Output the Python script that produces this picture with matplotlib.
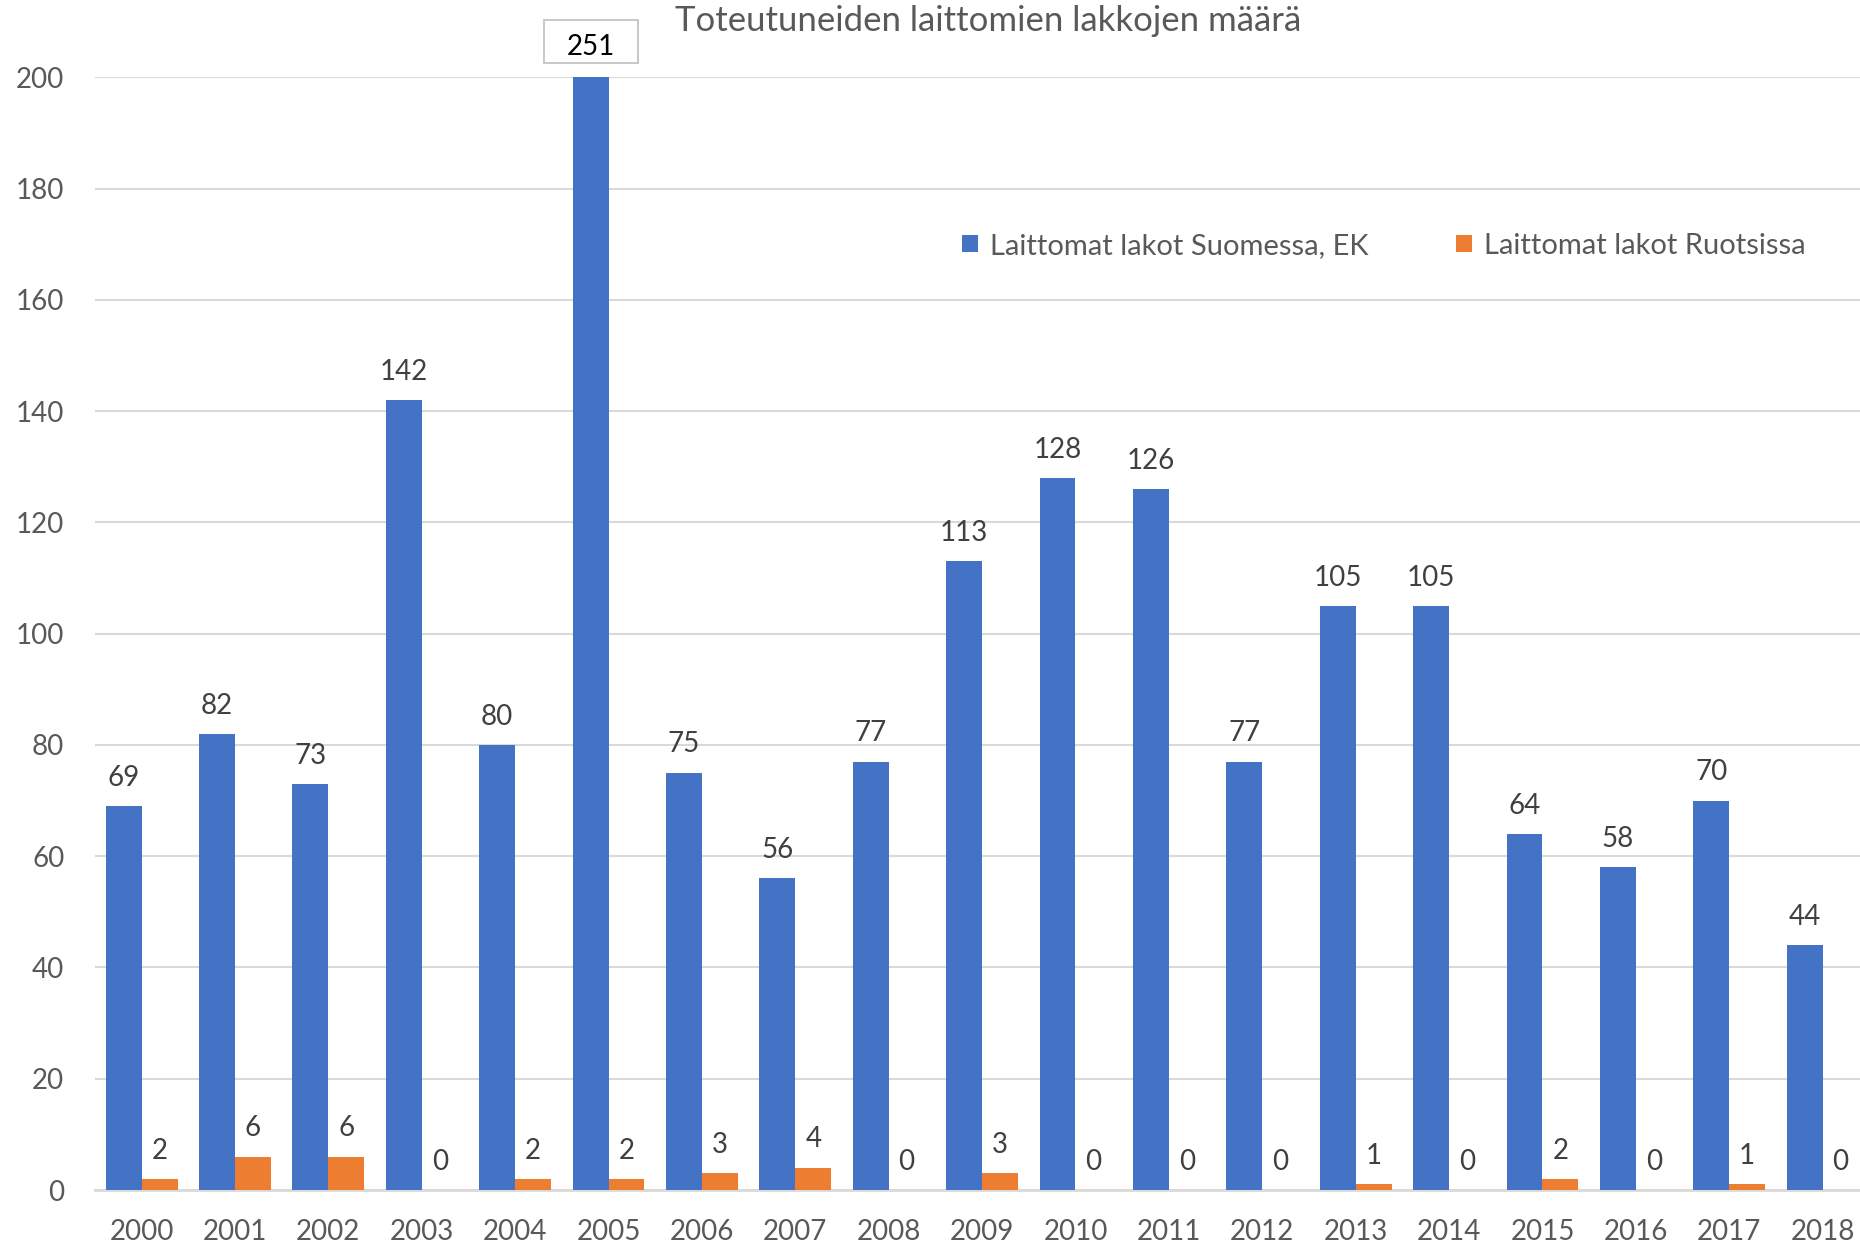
import matplotlib
matplotlib.use("Agg")
import matplotlib.pyplot as plt
from matplotlib.patches import Rectangle
import numpy as np

plt.rcParams['font.family'] = ['Lato', 'DejaVu Sans']

years = [str(y) for y in range(2000, 2019)]
suomi = [69, 82, 73, 142, 80, 251, 75, 56, 77, 113, 128, 126, 77, 105, 105, 64, 58, 70, 44]
ruotsi = [2, 6, 6, 0, 2, 2, 3, 4, 0, 3, 0, 0, 0, 1, 0, 2, 0, 1, 0]

blue = '#4472C4'
orange = '#ED7D31'
txt = '#404040'
tick_c = '#595959'

fig = plt.figure(figsize=(18.6, 12.47), dpi=100)
ax = fig.add_axes([0.051, 0.0457, 0.949, 0.8923])

x = np.arange(len(years))
w = 0.385
b1 = ax.bar(x - w / 2, suomi, w, color=blue, label='Laittomat lakot Suomessa, EK', zorder=3)
b2 = ax.bar(x + w / 2, ruotsi, w, color=orange, label='Laittomat lakot Ruotsissa', zorder=3)

ax.set_ylim(0, 200)
ax.set_xlim(-0.5, 18.4)
ax.set_yticks(range(0, 201, 20))
ax.set_xticks(x)
ax.set_xticklabels(years)
ax.grid(axis='y', color='#d9d9d9', linewidth=1.5, zorder=0)
for s in ['top', 'right', 'left']:
    ax.spines[s].set_visible(False)
ax.spines['bottom'].set_color('#d9d9d9')
ax.spines['bottom'].set_linewidth(2)
ax.tick_params(axis='both', length=0, labelsize=20, colors=tick_c)
ax.tick_params(axis='x', pad=21)
ax.tick_params(axis='y', pad=22)

# data labels
for xi, v in zip(x, suomi):
    if v > 200:
        # value above the axis top, shown in a box
        ax.annotate(str(v), (xi - w / 2, 200), xytext=(0, 22), textcoords='offset points',
                    ha='center', va='center', fontsize=20, color='black',
                    annotation_clip=False, zorder=6)
        ax.add_patch(Rectangle((0.2925, 0.9495), 0.0505, 0.0345, transform=fig.transFigure,
                               fc='white', ec='#bfbfbf', lw=1.2, zorder=5, clip_on=False))
    else:
        ax.annotate(str(v), (xi - w / 2, v), xytext=(0, 11), textcoords='offset points',
                    ha='center', va='bottom', fontsize=20, color=txt)
for xi, v in zip(x, ruotsi):
    ax.annotate(str(v), (xi + w / 2, v), xytext=(0, 11), textcoords='offset points',
                ha='center', va='bottom', fontsize=20, color=txt)

fig.text(0.531, 0.983, 'Toteutuneiden laittomien lakkojen määrä', ha='center', va='center',
         fontsize=25, color=tick_c)

fig.legend(handles=[b1, b2], loc='center', bbox_to_anchor=(0.744, 0.803), ncol=2,
           frameon=False, fontsize=21, labelcolor=tick_c, handlelength=0.55, handleheight=0.55,
           handletextpad=0.4, columnspacing=3.0)

fig.savefig('out.png', dpi=100)
